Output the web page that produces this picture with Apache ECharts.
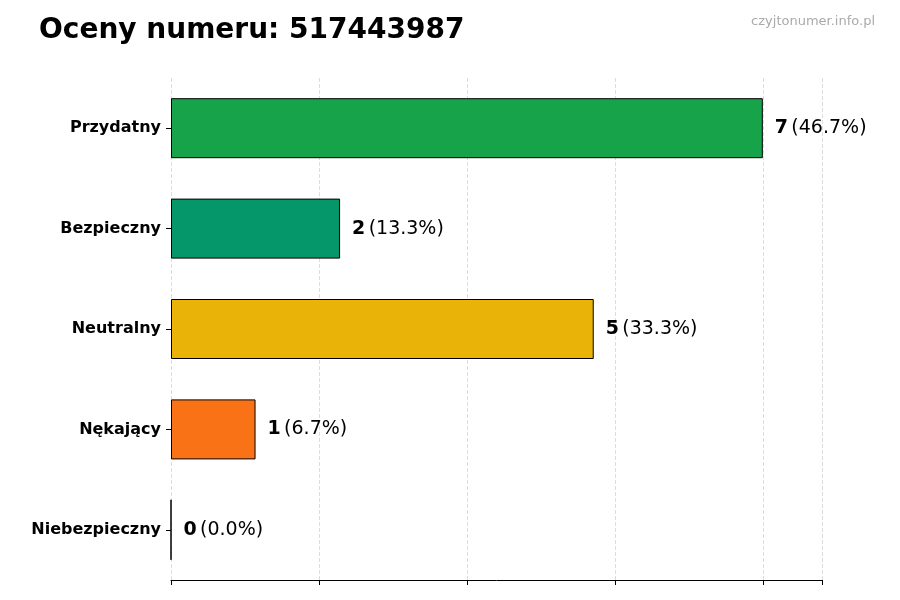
<!DOCTYPE html>
<html>
<head>
<meta charset="utf-8">
<script src="https://cdn.jsdelivr.net/npm/echarts@6/dist/echarts.min.js"></script>
<style>html,body{margin:0;background:#fff}#chart{width:900px;height:600px}</style>
</head>
<body>
<div id="chart"></div>
<script>
var categories = ['Przydatny', 'Bezpieczny', 'Neutralny', 'Nękający', 'Niebezpieczny'];
var counts = [7, 2, 5, 1, 0];
var percents = ['46.7%', '13.3%', '33.3%', '6.7%', '0.0%'];
var colors = ['#16a34a', '#059669', '#eab308', '#f97316', '#dc2626'];

var chart = echarts.init(document.getElementById('chart'));
chart.setOption({
	animation: false,
	title: [{
		text: 'Oceny numeru: 517443987', left: 34, top: 12,
		textStyle: {fontFamily: 'DejaVu Sans', fontSize: 28, fontWeight: 'bold', color: '#000'}
	}, {
		text: 'czyjtonumer.info.pl', right: 20, top: 10,
		textStyle: {fontFamily: 'DejaVu Sans', fontSize: 13, fontWeight: 'normal', color: '#aaa'}
	}],
	grid: {left: 171, right: 78, top: 78, bottom: 20},
	xAxis: {
		type: 'value', min: 0, max: 7.7, interval: 1.75,
		axisLabel: {show: false},
		axisLine: {show: true, lineStyle: {color: '#000'}},
		axisTick: {show: true, length: 5, lineStyle: {color: '#000'}},
		splitLine: {show: true, lineStyle: {type: 'dashed', color: '#ddd'}}
	},
	yAxis: {
		type: 'category', inverse: true, data: categories,
		axisLine: {show: false},
		axisTick: {show: true, length: 5, alignWithLabel: true, lineStyle: {color: '#000'}},
		axisLabel: {fontFamily: 'DejaVu Sans', fontSize: 16, fontWeight: 'bold', color: '#000', margin: 10}
	},
	series: [{
		type: 'bar', barWidth: 60,
		data: counts.map(function (v, i) {
			return {value: v, itemStyle: {color: colors[i], borderColor: '#000', borderWidth: 1}};
		}),
		label: {
			show: true, position: 'right', distance: 12,
			formatter: function (p) { return '{b|' + counts[p.dataIndex] + '} {n|(' + percents[p.dataIndex] + ')}'; },
			rich: {
				b: {fontFamily: 'DejaVu Sans', fontSize: 19, fontWeight: 'bold', color: '#000'},
				n: {fontFamily: 'DejaVu Sans', fontSize: 19, color: '#000'}
			}
		}
	}]
});
</script>
</body>
</html>
